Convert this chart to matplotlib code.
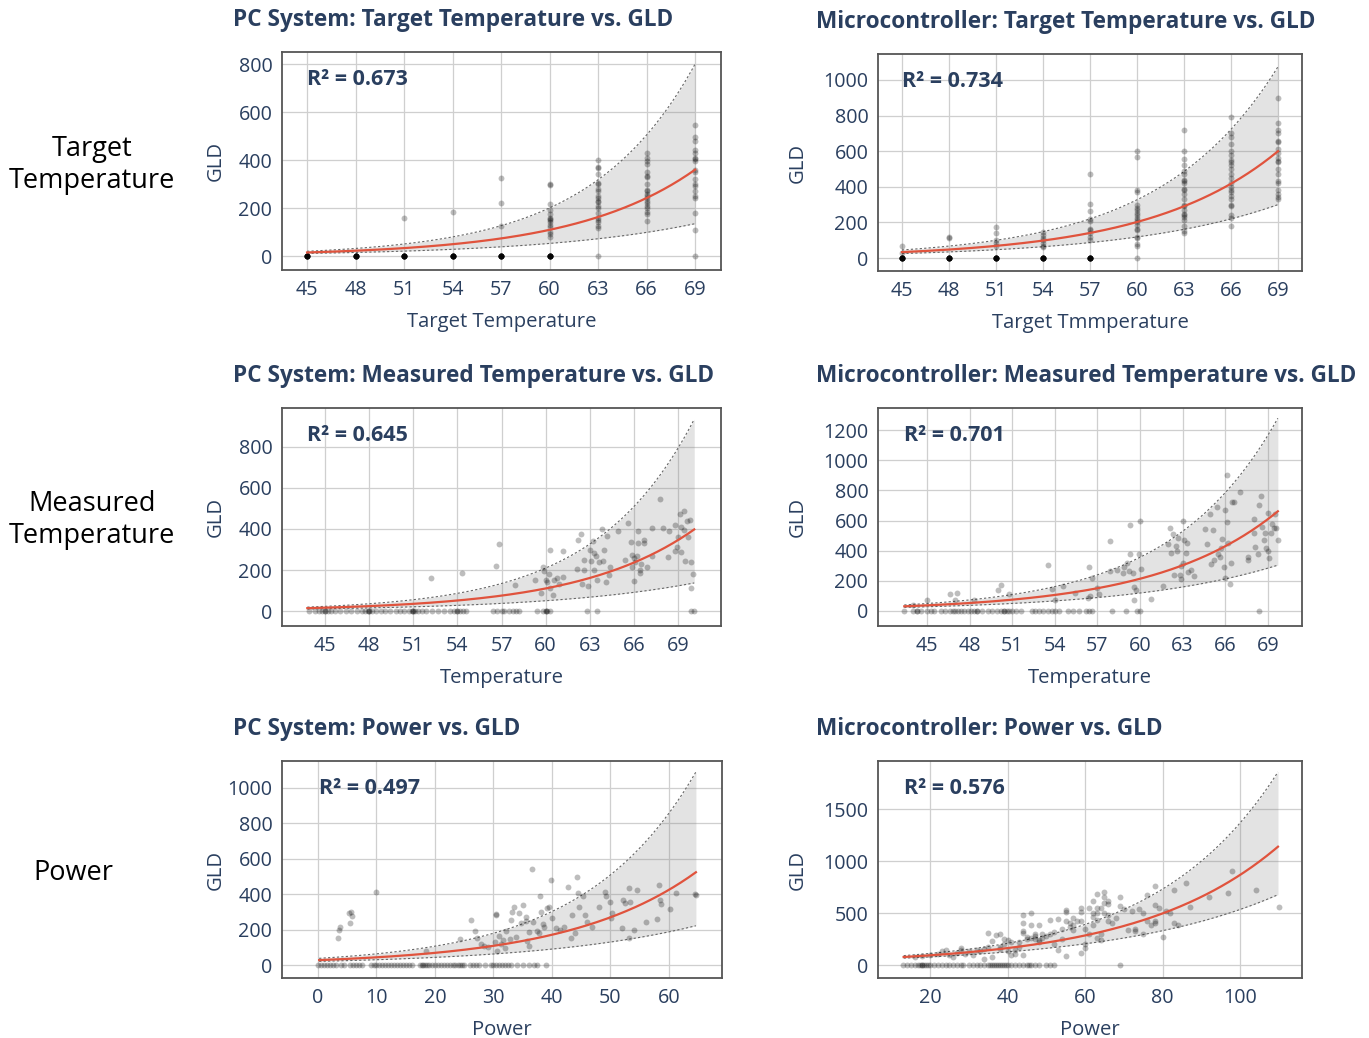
import numpy as np
import matplotlib
matplotlib.use("Agg")
import matplotlib.pyplot as plt

# ---------------- data ----------------
target_levels = [45, 48, 51, 54, 57, 60, 63, 66, 69]

pc_target_zero_counts = [12, 12, 12, 12, 12, 12, 1, 0, 1]
pc_target_gld = [
    [],
    [],
    [160],
    [183],
    [325, 220, 125],
    [300, 295, 215, 190, 175, 160, 155, 150, 140, 130, 120, 100, 90, 80],
    [400, 370, 365, 340, 305, 300, 280, 270, 250, 240, 230, 225, 210, 200, 180, 160, 150, 140, 125, 115],
    [430, 410, 395, 385, 350, 335, 330, 300, 275, 270, 260, 250, 240, 230, 220, 210, 200, 185, 175, 145],
    [545, 495, 480, 440, 430, 410, 405, 395, 360, 350, 320, 300, 290, 270, 250, 240, 180, 110],
]

mc_target_zero_counts = [12, 12, 12, 12, 12, 1, 0, 0, 0]
mc_target_gld = [
    [70, 30],
    [120, 115],
    [175, 140, 100, 85, 70],
    [145, 130, 115, 100, 85, 70, 60],
    [470, 305, 265, 220, 210, 165, 155, 140, 120, 100],
    [600, 565, 380, 370, 300, 280, 270, 255, 240, 225, 215, 200, 185, 165, 155, 120, 110, 80, 70],
    [720, 600, 555, 520, 490, 470, 440, 430, 420, 390, 380, 360, 330, 300, 290, 270, 250, 240, 230, 215, 180, 150, 140],
    [790, 700, 680, 640, 600, 580, 550, 540, 520, 500, 470, 450, 420, 400, 380, 370, 350, 330, 300, 290, 240, 225, 180],
    [900, 760, 720, 700, 660, 650, 610, 590, 560, 545, 540, 500, 470, 430, 420, 380, 360, 340, 330],
]

pc_meas_zero_x = [43.9, 44.3, 44.6, 44.8, 45.0, 45.0, 45.2, 45.4, 45.7, 46.0, 46.4, 46.8, 47.2, 47.5, 47.7,
                  47.9, 48.0, 48.0, 48.2, 48.5, 48.8, 49.1, 49.4, 49.8, 50.1, 50.4, 50.7, 50.9, 51.0, 51.0,
                  51.1, 51.3, 51.6, 51.9, 52.3, 52.7, 53.1, 53.5, 53.8, 54.0, 54.0, 54.2, 54.4, 54.6, 56.4,
                  56.7, 57.0, 57.2, 57.5, 57.8, 58.0, 58.2, 59.4, 59.8, 60.0, 60.0, 60.1, 60.3, 62.8, 63.5,
                  69.9, 70.1]
pc_meas_x = [52.2, 54.3, 56.8, 56.6, 57.9, 59.3, 59.7, 59.8, 59.9, 60.0, 60.1, 60.2, 60.3, 60.3, 60.5,
             60.6, 60.8, 60.9, 61.2, 61.2, 62.1, 62.2, 62.4, 62.5, 62.6, 62.6, 62.9, 63.0, 63.1, 63.2,
             63.3, 63.4, 63.3, 63.6, 63.5, 63.8, 63.9, 64.0, 64.1, 64.2, 64.3, 64.4, 64.9, 65.4, 65.6,
             65.8, 65.9, 65.9, 66.0, 66.0, 66.1, 66.2, 66.3, 66.3, 66.4, 66.4, 66.5, 66.7, 66.7, 66.9,
             67.2, 67.2, 67.8, 68.0, 68.3, 68.4, 68.8, 68.8, 68.9, 69.0, 69.1, 69.2, 69.2, 69.4, 69.4,
             69.5, 69.6, 69.7, 69.8, 69.9, 69.9, 70.0]
pc_meas_gld = [160, 185, 325, 220, 125, 150, 90, 215, 195, 150, 140, 180, 300, 110, 80,
               150, 160, 130, 165, 295, 205, 345, 375, 130, 250, 200, 120, 300, 245, 340,
               285, 270, 200, 240, 150, 400, 245, 300, 140, 365, 175, 215, 390, 250, 430,
               335, 275, 215, 145, 260, 240, 270, 390, 330, 200, 185, 230, 345, 330, 215,
               270, 405, 545, 405, 265, 390, 420, 295, 310, 360, 475, 410, 290, 395, 490,
               245, 440, 360, 445, 240, 110, 180]

mc_meas_zero_x = [43.4, 44.0, 44.3, 44.3, 44.6, 45.0, 45.3, 45.5, 46.0, 46.3, 46.6, 46.8, 47.0, 47.2, 47.4,
                  47.6, 47.9, 48.1, 48.3, 48.5, 48.5, 48.9, 49.3, 49.6, 49.9, 50.2, 50.4, 50.4, 50.6, 50.8,
                  51.0, 51.3, 51.6, 52.4, 52.6, 52.9, 53.2, 53.5, 53.8, 54.0, 54.3, 54.9, 55.3, 55.7, 56.2,
                  56.4, 56.6, 58.0, 59.0, 59.8, 60.0, 68.4]
mc_meas_x = [44.0, 45.0, 46.6, 47.1, 47.0, 48.3, 50.0, 50.2, 50.8, 53.5, 53.8, 54.0, 54.6, 55.4, 56.4,
             56.6, 56.5, 56.3, 57.0, 57.1, 57.9, 57.9, 58.4, 58.8, 58.9, 59.1, 59.2, 59.3, 59.3, 59.5,
             59.6, 59.6, 59.7, 59.9, 60.0, 60.1, 60.8, 61.6, 62.0, 62.1, 62.2, 62.3, 62.4, 62.5, 62.6,
             62.7, 62.8, 62.9, 62.9, 63.0, 63.0, 63.1, 63.2, 63.3, 63.4, 63.6, 63.8, 64.6, 64.7, 64.9,
             65.0, 65.1, 65.2, 65.4, 65.5, 65.6, 65.7, 65.8, 65.9, 66.0, 66.0, 66.1, 66.2, 66.3, 66.4,
             66.5, 66.6, 66.15, 67.0, 67.6, 67.6, 68.0, 68.0, 68.1, 68.3, 68.4, 68.5, 68.6, 68.7, 68.8,
             68.9, 69.0, 69.0, 69.1, 69.2, 69.3, 69.4, 69.5, 69.6, 69.7]
mc_meas_gld = [40, 70, 115, 120, 70, 70, 140, 175, 110, 305, 145, 75, 165, 120, 295,
               220, 100, 85, 150, 115, 465, 265, 275, 250, 290, 320, 265, 380, 570, 250,
               75, 160, 140, 375, 595, 280, 80, 165, 445, 550, 385, 510, 240, 430, 395,
               485, 240, 300, 215, 600, 320, 470, 385, 450, 260, 270, 235, 545, 445, 640,
               310, 540, 340, 690, 380, 355, 420, 480, 290, 220, 670, 590, 450, 180, 320,
               720, 720, 900, 790, 340, 355, 610, 520, 425, 380, 700, 760, 560, 470, 520,
               420, 400, 650, 350, 520, 580, 550, 640, 550, 470]

pc_power_zero_x = [0.0, 0.5, 1.0, 1.5, 2.0, 2.5, 3.0, 4.0, 4.5, 5.5, 6.0, 6.5, 7.0, 7.5, 9.0,
                   9.5, 10.0, 10.5, 11.0, 11.5, 12.0, 12.5, 13.0, 13.5, 14.0, 14.5, 15.0, 15.5, 16.0, 17.5,
                   17.8, 18.0, 18.3, 18.6, 19.0, 19.5, 20.0, 20.5, 21.0, 21.5, 22.0, 22.5, 23.0, 23.5, 24.0,
                   24.3, 24.6, 25.0, 26.0, 26.5, 27.0, 27.5, 28.5, 29.5, 30.0, 30.5, 31.0, 31.5, 32.0, 32.5,
                   33.0, 34.0, 35.0, 36.0, 37.0, 37.5, 39.0]
pc_power_x = [3.5, 3.6, 3.7, 5.3, 5.6, 5.8, 5.5, 9.9, 18.4, 24.3, 26.2, 26.8, 27.1, 27.8, 28.4,
              29.1, 30.3, 30.5, 30.5, 30.6, 31.0, 31.3, 31.6, 31.9, 32.2, 32.8, 33.0, 33.2, 33.5, 33.8,
              34.3, 34.7, 35.1, 35.5, 35.6, 35.8, 36.0, 36.1, 36.6, 36.7, 37.4, 37.7, 38.0, 38.2, 38.5,
              38.7, 39.1, 39.5, 39.9, 40.0, 40.7, 41.4, 42.0, 42.7, 43.2, 43.5, 44.0, 44.3, 44.5, 44.6,
              45.3, 45.7, 46.0, 46.8, 48.0, 49.0, 49.2, 49.9, 50.1, 50.3, 52.0, 52.2, 52.4, 53.1, 53.2,
              53.3, 54.0, 54.5, 56.0, 58.0, 58.3, 58.4, 58.6, 60.2, 61.2, 64.5, 64.6]
pc_power_gld = [150, 200, 215, 295, 300, 275, 235, 410, 80, 145, 255, 195, 150, 120, 110,
                100, 130, 280, 290, 80, 165, 120, 140, 95, 190, 145, 255, 300, 325, 160,
                295, 235, 340, 270, 250, 135, 105, 185, 545, 245, 190, 180, 390, 300, 230,
                215, 320, 330, 480, 265, 210, 200, 215, 440, 155, 285, 180, 495, 405, 325,
                390, 280, 245, 215, 330, 410, 390, 355, 265, 295, 210, 365, 350, 150, 435,
                355, 200, 425, 245, 260, 450, 370, 345, 315, 405, 400, 395]

mc_power_zero_x = [13.0, 14.0, 15.0, 16.0, 17.0, 17.5, 18.0, 18.0, 18.5, 19.0, 19.5, 20.0, 21.0, 22.0, 23.0,
                   24.0, 25.0, 26.0, 27.0, 28.0, 28.5, 30.0, 31.0, 32.0, 33.0, 34.0, 35.0, 35.5, 36.0, 36.5,
                   37.0, 37.5, 38.0, 38.5, 39.0, 39.5, 40.0, 41.0, 42.0, 43.0, 44.0, 45.0, 45.5, 46.0, 47.0,
                   48.0, 50.0, 51.0, 52.0, 69.0]
mc_power_x = [16, 18, 20, 22, 23, 24, 25, 26, 27, 28, 28, 29, 30, 31, 32,
              33, 34, 34, 35, 35, 36, 36, 37, 38, 38, 38, 39, 39, 40, 40,
              41, 41, 42, 42, 43, 43, 44, 44, 44, 44, 44, 45, 45, 46, 46,
              46, 47, 47, 47, 48, 48, 48, 49, 49, 50, 51, 51, 52, 52, 53,
              53, 54, 54, 55, 55, 55, 55, 56, 56, 57, 57, 57, 58, 59, 59,
              59, 59, 60, 60, 60, 61, 61, 62, 62, 62, 62, 63, 63, 63, 63,
              63, 64, 64, 64, 65, 65, 65, 65, 66, 66, 66, 66, 67, 68, 69,
              69, 70, 71, 72, 73, 73, 74, 75, 75, 76, 76, 77, 78, 78, 78,
              78, 79, 80, 81, 82, 83, 83, 84, 86, 87, 92, 97, 98, 104, 110]
mc_power_gld = [80, 90, 100, 110, 130, 140, 100, 75, 120, 160, 145, 110, 130, 100, 140,
                130, 60, 150, 170, 310, 80, 230, 290, 170, 300, 150, 250, 200, 240, 130,
                220, 100, 110, 140, 220, 170, 480, 400, 330, 310, 100, 250, 270, 500, 380,
                260, 250, 300, 280, 380, 240, 220, 300, 260, 280, 430, 300, 200, 320, 440,
                140, 350, 250, 530, 510, 420, 90, 400, 370, 380, 450, 340, 420, 550, 510,
                420, 120, 350, 200, 160, 300, 550, 620, 500, 460, 380, 680, 550, 500, 430,
                260, 550, 300, 240, 700, 650, 600, 500, 620, 590, 480, 420, 400, 450, 650,
                570, 540, 340, 520, 350, 330, 540, 300, 500, 670, 420, 380, 760, 580, 420,
                400, 550, 270, 520, 500, 720, 400, 380, 790, 560, 650, 690, 900, 720, 560]

# fitted exponential curve + prediction band, read at the curve ends
# (x_start, x_end, fit_start, fit_end, upper_start, upper_end, lower_start, lower_end)
pc_target_fit = (45.0, 69.0, 15, 360, 20, 800, 11, 135)
mc_target_fit = (45.0, 69.0, 33, 600, 45, 1075, 25, 300)
pc_meas_fit = (43.8, 70.1, 14, 398, 19, 935, 10, 137)
mc_meas_fit = (43.4, 69.7, 31, 661, 40, 1278, 24, 304)
pc_power_fit = (0.2, 64.6, 28, 524, 38, 1090, 21, 222)
mc_power_fit = (13.2, 109.8, 77, 1138, 90, 1856, 66, 676)

r2_values = ["0.673", "0.734", "0.645", "0.701", "0.497", "0.576"]
titles = ["PC System: Target Temperature vs. GLD",
          "Microcontroller: Target Temperature vs. GLD",
          "PC System: Measured Temperature vs. GLD",
          "Microcontroller: Measured Temperature vs. GLD",
          "PC System: Power vs. GLD",
          "Microcontroller: Power vs. GLD"]
xlabels = ["Target Temperature", "Target Tmmperature", "Temperature", "Temperature", "Power", "Power"]
row_labels = ["Target\nTemperature", "Measured\nTemperature", "Power"]

# ---------------- style ----------------
NAVY = "#2a3f5f"
FONT = "Open Sans"
plt.rcParams["font.family"] = [FONT, "DejaVu Sans"]

W, H = 1369, 1038
fig = plt.figure(figsize=(W / 100, H / 100), dpi=100)


def px_axes(l, t, r, b):
    return fig.add_axes([l / W, 1 - b / H, (r - l) / W, (b - t) / H])


def expcurve(x0, x1, y0, y1, n=200):
    x = np.linspace(x0, x1, n)
    return x, y0 * (y1 / y0) ** ((x - x0) / (x1 - x0))


def draw(ax, xs, ys, fit, xlim, ylim, xticks, yticks, title, r2, xlabel, title_x, title_y):
    x0, x1, f0, f1, u0, u1, l0, l1 = fit
    xx, up = expcurve(x0, x1, u0, u1)
    _, lo = expcurve(x0, x1, l0, l1)
    _, fy = expcurve(x0, x1, f0, f1)
    ax.fill_between(xx, lo, up, color=(0.5, 0.5, 0.5), alpha=0.22, lw=0, zorder=1)
    ax.plot(xx, up, color="#666666", lw=0.8, ls=(0, (2, 2)), zorder=2)
    ax.plot(xx, lo, color="#666666", lw=0.8, ls=(0, (2, 2)), zorder=2)
    ax.scatter(xs, ys, s=18, color="black", alpha=0.26, lw=0, zorder=3)
    ax.plot(xx, fy, color="#e0533d", lw=1.6, zorder=4)
    ax.set_xlim(*xlim)
    ax.set_ylim(*ylim)
    ax.set_xticks(xticks)
    ax.set_yticks(yticks)
    ax.grid(True, color="#cfcfcf", lw=0.9, zorder=0)
    ax.set_axisbelow(True)
    for s in ax.spines.values():
        s.set_color("#555555")
        s.set_linewidth(1.3)
    ax.tick_params(length=0, labelsize=14.2, labelcolor=NAVY, pad=7)
    ax.set_xlabel(xlabel, fontsize=14.6, color=NAVY, labelpad=9)
    ax.set_ylabel("GLD", fontsize=14.6, color=NAVY)
    ax.text(x0, 0.875, "R\u00b2 = " + r2, transform=ax.get_xaxis_transform(),
            fontsize=15.5, fontweight="bold", color=NAVY, ha="left", va="center", zorder=5)
    fig.text(title_x / W, 1 - title_y / H, title, fontsize=16.3, fontweight="bold",
             color=NAVY, ha="left", va="center")


def target_xy(levels, groups, zeros):
    xs, ys = [], []
    for lv, g, z in zip(levels, groups, zeros):
        xs += [lv] * len(g) + [lv] * z
        ys += list(g) + [0] * z
    return xs, ys


LEFT_YL = -0.127
RIGHT_YL = -0.165

# row 1
ax1 = px_axes(282, 52, 721, 270)
x, y = target_xy(target_levels, pc_target_gld, pc_target_zero_counts)
draw(ax1, x, y, pc_target_fit, (43.45, 70.6), (-58, 850), target_levels, range(0, 801, 200),
     titles[0], r2_values[0], xlabels[0], 233, 20)
ax1.yaxis.set_label_coords(LEFT_YL, 0.5)

ax2 = px_axes(878, 54, 1302, 271)
x, y = target_xy(target_levels, mc_target_gld, mc_target_zero_counts)
draw(ax2, x, y, mc_target_fit, (43.47, 70.53), (-73, 1146), target_levels, range(0, 1001, 200),
     titles[1], r2_values[1], xlabels[1], 816, 22)
ax2.yaxis.set_label_coords(RIGHT_YL, 0.5)

# row 2
ax3 = px_axes(282, 408, 721, 626)
draw(ax3, pc_meas_x + pc_meas_zero_x, pc_meas_gld + [0] * len(pc_meas_zero_x), pc_meas_fit,
     (42.08, 71.92), (-73, 990), target_levels, range(0, 801, 200),
     titles[2], r2_values[2], xlabels[2], 233, 376)
ax3.yaxis.set_label_coords(LEFT_YL, 0.5)

ax4 = px_axes(878, 408, 1302, 626)
draw(ax4, mc_meas_x + mc_meas_zero_x, mc_meas_gld + [0] * len(mc_meas_zero_x), mc_meas_fit,
     (41.55, 71.4), (-99.5, 1346), target_levels, range(0, 1201, 200),
     titles[3], r2_values[3], xlabels[3], 816, 376)
ax4.yaxis.set_label_coords(RIGHT_YL, 0.5)

# row 3
ax5 = px_axes(282, 761, 722, 978)
draw(ax5, pc_power_x + pc_power_zero_x, pc_power_gld + [0] * len(pc_power_zero_x), pc_power_fit,
     (-6.15, 69.06), (-73, 1152), range(0, 61, 10), range(0, 1001, 200),
     titles[4], r2_values[4], xlabels[4], 233, 729)
ax5.yaxis.set_label_coords(LEFT_YL, 0.5)

ax6 = px_axes(878, 761, 1302, 978)
draw(ax6, mc_power_x + mc_power_zero_x, mc_power_gld + [0] * len(mc_power_zero_x), mc_power_fit,
     (6.58, 116), (-125, 1962), range(20, 101, 20), [0, 500, 1000, 1500],
     titles[5], r2_values[5], xlabels[5], 816, 729)
ax6.yaxis.set_label_coords(RIGHT_YL, 0.5)

# row labels
fig.text(92 / W, 1 - 165 / H, row_labels[0], fontsize=19.5, color="black", ha="center", va="center",
         linespacing=1.2)
fig.text(92 / W, 1 - 520 / H, row_labels[1], fontsize=19.5, color="black", ha="center", va="center",
         linespacing=1.2)
fig.text(73 / W, 1 - 873 / H, row_labels[2], fontsize=19.5, color="black", ha="center", va="center")

fig.savefig("out.png", dpi=100)
